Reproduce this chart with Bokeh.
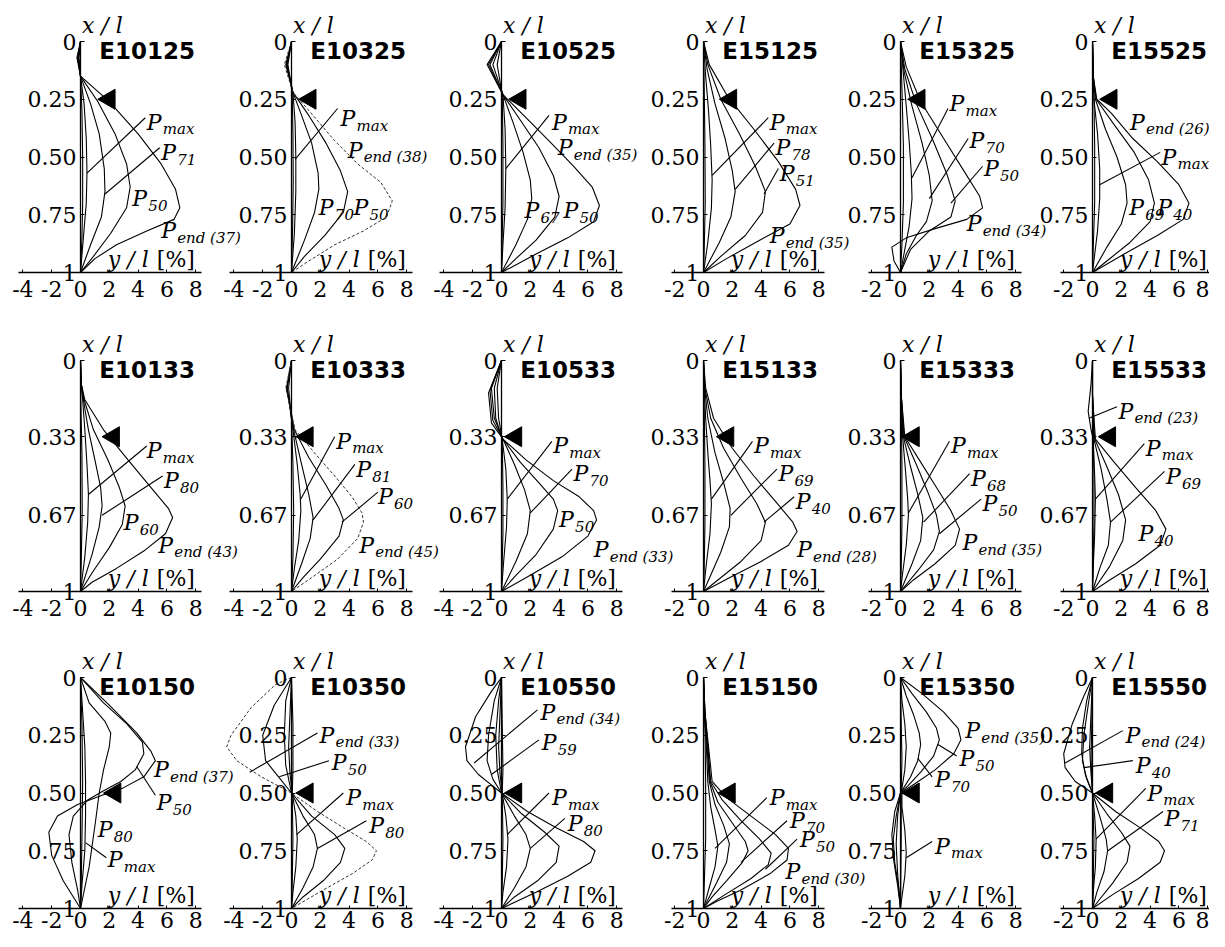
import math
from bokeh.plotting import figure
from bokeh.models import Range1d, LinearAxis, FixedTicker, ColumnDataSource
from bokeh.core.properties import value
from bokeh.embed import file_html
from bokeh.resources import INLINE

# ---------------- data ----------------
# grid of specimens (rows: load point at x/l = 0.25, 0.33, 0.50)
ROW_NAMES = [["E10125", "E10325", "E10525", "E15125", "E15325", "E15525"],
             ["E10133", "E10333", "E10533", "E15133", "E15333", "E15533"],
             ["E10150", "E10350", "E10550", "E15150", "E15350", "E15550"]]
LOAD_XL = [0.25, 0.33, 0.50]
XL_TICKS = [[0, 0.25, 0.5, 0.75, 1], [0, 0.33, 0.67, 1], [0, 0.25, 0.5, 0.75, 1]]
XL_TICK_LABELS = [["0", "0.25", "0.50", "0.75", "1"], ["0", "0.33", "0.67", "1"],
                  ["0", "0.25", "0.50", "0.75", "1"]]
YL_TICKS_WIDE = [-4, -2, 0, 2, 4, 6, 8]     # columns 1-3
YL_TICKS_NARROW = [-2, 0, 2, 4, 6, 8]       # columns 4-6
YL_TICK_LABELS = {-4: "-4", -2: "-2", 0: "0", 2: "2", 4: "4", 6: "6", 8: "8"}
YL_AXIS_WIDE = (-4.3, 8.4)
YL_AXIS_NARROW = (-2.2, 8.4)

# deflected shapes: (y/l [%], x/l) points, from low load to final load
E10125_curves = [
    [(0, 0), (-0.25, 0.07), (0, 0.15), (0.1, 0.3), (0.15, 0.5), (0.15, 0.7), (0.1, 0.85), (0, 1)],
    [(0, 0), (-0.2, 0.07), (0, 0.15), (0.25, 0.27), (0.4, 0.42), (0.45, 0.57), (0.4, 0.7), (0.2, 0.85), (0, 1)],
    [(0, 0), (-0.15, 0.07), (0, 0.15), (0.7, 0.27), (1.3, 0.4), (1.65, 0.55), (1.7, 0.65), (1.45, 0.76), (0.7, 0.88), (0, 1)],
    [(0, 0), (-0.15, 0.07), (0, 0.15), (1.2, 0.26), (2.4, 0.4), (3.2, 0.53), (3.45, 0.63), (3.2, 0.72), (2.1, 0.83), (0.9, 0.93), (0, 1)],
    [(0, 0), (-0.1, 0.07), (0, 0.15), (2.0, 0.26), (4.0, 0.4), (5.6, 0.53), (6.6, 0.64), (6.9, 0.72), (6.5, 0.77), (4.6, 0.82), (2.5, 0.88), (1.0, 0.94), (0, 1)],
]
E10325_curves = [
    [(0, 0), (-0.25, 0.1), (0.05, 0.22), (0.1, 0.4), (0.12, 0.6), (0.08, 0.8), (0, 1)],
    [(0, 0), (-0.3, 0.1), (0.1, 0.22), (0.25, 0.35), (0.3, 0.5), (0.3, 0.65), (0.2, 0.83), (0, 1)],
    [(0, 0), (-0.35, 0.1), (0.1, 0.22), (0.7, 0.32), (1.4, 0.44), (1.85, 0.57), (1.9, 0.64), (1.6, 0.74), (0.9, 0.86), (0, 1)],
    [(0, 0), (-0.4, 0.1), (0.1, 0.22), (1.2, 0.32), (2.4, 0.44), (3.4, 0.56), (3.9, 0.65), (3.6, 0.74), (2.3, 0.84), (0.9, 0.93), (0, 1)],
    [(0, 0), (-0.5, 0.1), (0.1, 0.22), (1.5, 0.32), (3.0, 0.43), (4.6, 0.53), (6.2, 0.61), (7.0, 0.69), (6.6, 0.76), (5.0, 0.82), (3.0, 0.88), (1.2, 0.95), (0, 1)],
]
E10525_curves = [
    [(0, 0), (-0.3, 0.1), (0.05, 0.23), (0.1, 0.45), (0.1, 0.7), (0, 1)],
    [(0, 0), (-0.6, 0.1), (0.1, 0.23), (0.25, 0.38), (0.3, 0.55), (0.25, 0.72), (0.1, 0.88), (0, 1)],
    [(0, 0), (-0.8, 0.1), (0.1, 0.23), (0.8, 0.35), (1.5, 0.48), (2.0, 0.6), (2.1, 0.68), (1.8, 0.77), (1.0, 0.88), (0, 1)],
    [(0, 0), (-0.9, 0.1), (0.1, 0.23), (1.3, 0.34), (2.6, 0.46), (3.6, 0.58), (4.0, 0.67), (3.7, 0.76), (2.4, 0.86), (1.0, 0.94), (0, 1)],
    [(0, 0), (-1.0, 0.1), (0.1, 0.23), (1.7, 0.33), (3.3, 0.43), (5.0, 0.54), (6.3, 0.63), (6.8, 0.71), (6.4, 0.78), (4.6, 0.85), (2.4, 0.92), (0, 1)],
]
E15125_curves = [
    [(0, 0), (0.05, 0.2), (0.1, 0.45), (0.12, 0.7), (0.05, 0.9), (0, 1)],
    [(0, 0), (0.15, 0.15), (0.35, 0.3), (0.5, 0.45), (0.6, 0.6), (0.55, 0.72), (0.3, 0.87), (0, 1)],
    [(0, 0), (0.25, 0.12), (0.8, 0.27), (1.5, 0.42), (2.0, 0.56), (2.2, 0.65), (1.9, 0.76), (1.1, 0.87), (0, 1)],
    [(0, 0), (0.3, 0.1), (1.2, 0.25), (2.5, 0.4), (3.6, 0.54), (4.3, 0.65), (4.1, 0.74), (2.9, 0.84), (1.2, 0.93), (0, 1)],
    [(0, 0), (0.4, 0.1), (1.7, 0.24), (3.5, 0.38), (5.2, 0.52), (6.4, 0.64), (6.7, 0.71), (6.0, 0.79), (3.9, 0.86), (1.6, 0.94), (0, 1)],
]
E15325_curves = [
    [(0, 0), (0.1, 0.2), (0.2, 0.45), (0.2, 0.7), (0.1, 0.88), (0, 1)],
    [(0, 0), (0.2, 0.14), (0.4, 0.28), (0.6, 0.43), (0.75, 0.57), (0.8, 0.68), (0.6, 0.8), (0.3, 0.9), (0, 1)],
    [(0, 0), (0.25, 0.13), (0.8, 0.28), (1.5, 0.44), (2.0, 0.58), (2.2, 0.69), (1.8, 0.78), (1.1, 0.84), (0.4, 0.92), (0, 1)],
    [(0, 0), (0.3, 0.12), (1.1, 0.27), (2.2, 0.42), (3.2, 0.57), (3.8, 0.69), (3.5, 0.76), (2.0, 0.82), (0.7, 0.9), (0, 1)],
    [(0, 0), (0.4, 0.11), (1.4, 0.26), (2.9, 0.41), (4.4, 0.56), (5.5, 0.67), (5.7, 0.72), (4.6, 0.77), (2.4, 0.81), (0.4, 0.85), (-0.6, 0.89), (-0.45, 0.95), (0, 1)],
]
E15525_curves = [
    [(0, 0), (0.05, 0.15), (0.1, 0.25), (0.15, 0.45), (0.15, 0.7), (0.05, 0.9), (0, 1)],
    [(0, 0), (0.05, 0.15), (0.1, 0.25), (0.35, 0.4), (0.5, 0.55), (0.5, 0.68), (0.35, 0.82), (0, 1)],
    [(0, 0), (0.05, 0.15), (0.2, 0.25), (0.9, 0.38), (1.7, 0.5), (2.3, 0.62), (2.4, 0.7), (2.0, 0.79), (1.0, 0.89), (0, 1)],
    [(0, 0), (0.05, 0.15), (0.25, 0.25), (1.5, 0.36), (2.9, 0.48), (3.9, 0.6), (4.3, 0.7), (4.0, 0.78), (2.6, 0.87), (1.0, 0.95), (0, 1)],
    [(0, 0), (0.05, 0.15), (0.3, 0.25), (1.3, 0.31), (2.8, 0.42), (4.5, 0.52), (6.0, 0.62), (6.7, 0.7), (6.3, 0.77), (4.5, 0.84), (2.2, 0.92), (0, 1)],
]
E10133_curves = [
    [(0, 0), (0.02, 0.17), (0.1, 0.4), (0.12, 0.65), (0.05, 0.88), (0, 1)],
    [(0, 0), (0.03, 0.1), (0.15, 0.17), (0.3, 0.3), (0.45, 0.45), (0.55, 0.58), (0.5, 0.7), (0.3, 0.85), (0, 1)],
    [(0, 0), (0.05, 0.1), (0.2, 0.17), (0.55, 0.3), (1.0, 0.43), (1.4, 0.55), (1.5, 0.63), (1.3, 0.72), (0.8, 0.84), (0, 1)],
    [(0, 0), (0.05, 0.1), (0.25, 0.17), (0.9, 0.3), (1.9, 0.43), (2.7, 0.55), (3.1, 0.63), (2.9, 0.71), (2.0, 0.81), (0.9, 0.91), (0, 1)],
    [(0, 0), (0.05, 0.1), (0.3, 0.17), (1.6, 0.3), (3.3, 0.43), (4.9, 0.55), (6.1, 0.64), (6.4, 0.68), (5.9, 0.75), (4.5, 0.82), (2.5, 0.9), (0.8, 0.96), (0, 1)],
]
E10333_curves = [
    [(0, 0), (-0.2, 0.12), (0.0, 0.25), (0.1, 0.45), (0.15, 0.65), (0.1, 0.85), (0, 1)],
    [(0, 0), (-0.3, 0.12), (0.1, 0.3), (0.4, 0.45), (0.6, 0.58), (0.65, 0.65), (0.5, 0.78), (0.2, 0.9), (0, 1)],
    [(0, 0), (-0.3, 0.12), (0.15, 0.3), (0.7, 0.45), (1.2, 0.58), (1.5, 0.68), (1.3, 0.77), (0.7, 0.88), (0, 1)],
    [(0, 0), (-0.35, 0.12), (0.2, 0.3), (1.2, 0.42), (2.4, 0.54), (3.3, 0.64), (3.6, 0.69), (3.3, 0.76), (2.0, 0.86), (0.8, 0.94), (0, 1)],
    [(0, 0), (-0.4, 0.12), (0.25, 0.3), (1.6, 0.4), (3.0, 0.5), (4.2, 0.59), (4.9, 0.66), (5.0, 0.7), (4.6, 0.77), (3.2, 0.86), (1.4, 0.94), (0, 1)],
]
E10533_curves = [
    [(0, 0), (-0.3, 0.12), (-0.2, 0.25), (0.05, 0.34), (0.1, 0.55), (0.1, 0.75), (0, 1)],
    [(0, 0), (-0.5, 0.12), (-0.4, 0.25), (0.05, 0.34), (0.3, 0.47), (0.4, 0.6), (0.35, 0.72), (0.15, 0.87), (0, 1)],
    [(0, 0), (-0.7, 0.12), (-0.5, 0.25), (0.1, 0.34), (0.9, 0.45), (1.6, 0.56), (2.0, 0.65), (1.8, 0.75), (1.0, 0.87), (0, 1)],
    [(0, 0), (-0.8, 0.13), (-0.6, 0.26), (0.1, 0.34), (1.3, 0.44), (2.6, 0.53), (3.6, 0.6), (3.9, 0.65), (3.6, 0.73), (2.4, 0.84), (1.0, 0.93), (0, 1)],
    [(0, 0), (-0.9, 0.14), (-0.7, 0.27), (0.1, 0.34), (1.7, 0.43), (3.6, 0.52), (5.4, 0.59), (6.4, 0.65), (6.6, 0.69), (6.0, 0.76), (4.2, 0.85), (2.0, 0.93), (0, 1)],
]
E15133_curves = [
    [(0, 0), (0.05, 0.2), (0.1, 0.45), (0.1, 0.7), (0.05, 0.9), (0, 1)],
    [(0, 0), (0.05, 0.12), (0.15, 0.25), (0.3, 0.4), (0.45, 0.52), (0.55, 0.62), (0.45, 0.75), (0.2, 0.88), (0, 1)],
    [(0, 0), (0.08, 0.12), (0.3, 0.25), (0.8, 0.4), (1.4, 0.53), (1.85, 0.64), (1.8, 0.72), (1.2, 0.83), (0, 1)],
    [(0, 0), (0.1, 0.12), (0.5, 0.25), (1.4, 0.38), (2.6, 0.51), (3.7, 0.62), (4.3, 0.7), (4.0, 0.78), (2.6, 0.87), (1.0, 0.95), (0, 1)],
    [(0, 0), (0.15, 0.12), (0.7, 0.25), (2.0, 0.38), (3.5, 0.5), (5.0, 0.61), (6.2, 0.7), (6.5, 0.74), (5.9, 0.8), (4.0, 0.87), (1.8, 0.94), (0, 1)],
]
E15333_curves = [
    [(0, 0), (0.05, 0.2), (0.1, 0.45), (0.1, 0.7), (0.05, 0.9), (0, 1)],
    [(0, 0), (0.05, 0.15), (0.15, 0.33), (0.35, 0.48), (0.5, 0.6), (0.55, 0.67), (0.4, 0.8), (0.15, 0.92), (0, 1)],
    [(0, 0), (0.05, 0.15), (0.2, 0.33), (0.7, 0.46), (1.2, 0.58), (1.55, 0.68), (1.4, 0.78), (0.8, 0.88), (0, 1)],
    [(0, 0), (0.05, 0.15), (0.25, 0.33), (1.1, 0.45), (1.9, 0.57), (2.5, 0.67), (2.7, 0.74), (2.3, 0.82), (1.2, 0.91), (0, 1)],
    [(0, 0), (0.05, 0.15), (0.3, 0.33), (1.4, 0.44), (2.5, 0.55), (3.5, 0.65), (4.1, 0.73), (3.8, 0.8), (2.4, 0.88), (0.9, 0.95), (0, 1)],
]
E15533_curves = [
    [(0, 0), (-0.1, 0.1), (-0.3, 0.22), (-0.1, 0.3), (0.05, 0.34), (0.1, 0.5), (0.1, 0.7), (0.05, 0.88), (0, 1)],
    [(0, 0), (0, 0.15), (0.05, 0.34), (0.15, 0.5), (0.2, 0.6), (0.15, 0.75), (0.05, 0.9), (0, 1)],
    [(0, 0), (0, 0.15), (0.1, 0.34), (0.6, 0.47), (1.0, 0.6), (1.25, 0.7), (1.1, 0.8), (0.5, 0.9), (0, 1)],
    [(0, 0), (0, 0.15), (0.15, 0.34), (1.0, 0.46), (1.8, 0.58), (2.3, 0.69), (2.1, 0.78), (1.2, 0.89), (0, 1)],
    [(0, 0), (0, 0.15), (0.2, 0.34), (1.5, 0.44), (3.0, 0.55), (4.4, 0.65), (5.1, 0.73), (4.7, 0.8), (3.0, 0.88), (1.2, 0.95), (0, 1)],
]
E10150_curves = [
    [(0, 0), (0.1, 0.2), (0.15, 0.45), (0.1, 0.7), (0.05, 0.9), (0, 1)],
    [(0, 0), (0.15, 0.15), (0.3, 0.3), (0.35, 0.45), (0.35, 0.6), (0.3, 0.75), (0.1, 0.9), (0, 1)],
    [(0, 0), (0.6, 0.11), (1.7, 0.19), (2.1, 0.24), (2.0, 0.3), (1.6, 0.4), (1.3, 0.5), (1.05, 0.62), (0.6, 0.82), (0, 1)],
    [(0, 0), (1.6, 0.11), (3.2, 0.2), (4.3, 0.28), (4.4, 0.33), (3.8, 0.4), (2.8, 0.45), (1.6, 0.49), (0.5, 0.53), (-0.5, 0.6), (-0.8, 0.68), (-0.6, 0.8), (-0.2, 0.92), (0, 1)],
    [(0, 0), (2.0, 0.12), (3.9, 0.24), (4.9, 0.32), (5.2, 0.36), (4.4, 0.43), (2.9, 0.48), (1.5, 0.51), (-0.2, 0.55), (-1.6, 0.6), (-2.2, 0.67), (-2.0, 0.77), (-1.2, 0.88), (-0.4, 0.96), (0, 1)],
]
E10350_curves = [
    [(0, 0), (0.1, 0.2), (0.1, 0.4), (0.05, 0.5), (0.1, 0.7), (0.05, 0.9), (0, 1)],
    [(0, 0), (-0.1, 0.15), (-0.2, 0.3), (-0.1, 0.42), (0.05, 0.5), (0.3, 0.6), (0.4, 0.7), (0.3, 0.82), (0.1, 0.93), (0, 1)],
    [(0, 0), (-0.4, 0.1), (-0.5, 0.25), (-0.4, 0.38), (0, 0.5), (0.8, 0.6), (1.6, 0.68), (1.8, 0.74), (1.5, 0.82), (0.8, 0.91), (0, 1)],
    [(0, 0), (-1.2, 0.12), (-2.0, 0.25), (-1.8, 0.36), (-0.9, 0.43), (0, 0.5), (1.4, 0.6), (3.0, 0.68), (3.7, 0.74), (3.4, 0.8), (2.2, 0.88), (0.8, 0.95), (0, 1)],
    [(0, 0), (-1.1, 0.03), (-2.8, 0.13), (-4.2, 0.25), (-4.5, 0.3), (-3.8, 0.36), (-2.1, 0.43), (-0.6, 0.48), (0, 0.5), (1.8, 0.58), (3.6, 0.65), (5.2, 0.71), (5.9, 0.75), (5.6, 0.79), (4.2, 0.85), (2.2, 0.92), (0, 1)],
]
E10550_curves = [
    [(0, 0), (0.05, 0.2), (0.1, 0.4), (0.05, 0.5), (0.1, 0.7), (0.05, 0.9), (0, 1)],
    [(0, 0), (-0.1, 0.15), (-0.2, 0.3), (-0.1, 0.42), (0.05, 0.5), (0.3, 0.6), (0.45, 0.7), (0.35, 0.82), (0.1, 0.93), (0, 1)],
    [(0, 0), (-0.2, 0.1), (-0.4, 0.25), (-0.3, 0.4), (0, 0.5), (0.9, 0.6), (1.7, 0.68), (2.0, 0.74), (1.7, 0.82), (0.9, 0.91), (0, 1)],
    [(0, 0), (-0.5, 0.1), (-0.9, 0.25), (-1.0, 0.36), (-0.6, 0.44), (0, 0.5), (1.4, 0.59), (3.0, 0.67), (4.0, 0.73), (3.8, 0.8), (2.5, 0.88), (0.9, 0.95), (0, 1)],
    [(0, 0), (-0.7, 0.06), (-1.8, 0.17), (-2.5, 0.3), (-2.4, 0.36), (-1.6, 0.42), (-0.6, 0.47), (0, 0.5), (1.8, 0.58), (3.8, 0.65), (5.7, 0.71), (6.5, 0.75), (6.2, 0.8), (4.6, 0.86), (2.4, 0.93), (0, 1)],
]
E15150_curves = [
    [(0, 0), (0.1, 0.2), (0.15, 0.45), (0.15, 0.7), (0.05, 0.9), (0, 1)],
    [(0, 0), (0.05, 0.15), (0.2, 0.3), (0.3, 0.45), (0.5, 0.56), (0.8, 0.66), (1.0, 0.73), (0.8, 0.82), (0.35, 0.92), (0, 1)],
    [(0, 0), (0.05, 0.15), (0.25, 0.3), (0.4, 0.45), (0.8, 0.55), (1.4, 0.64), (1.8, 0.72), (1.6, 0.8), (0.9, 0.89), (0, 1)],
    [(0, 0), (0.1, 0.15), (0.3, 0.3), (0.45, 0.45), (1.0, 0.54), (2.0, 0.63), (2.9, 0.71), (3.1, 0.75), (2.7, 0.8), (1.6, 0.88), (0.6, 0.95), (0, 1)],
    [(0, 0), (0.1, 0.15), (0.3, 0.3), (0.5, 0.45), (1.3, 0.53), (2.6, 0.62), (3.9, 0.7), (4.7, 0.76), (4.5, 0.81), (3.3, 0.87), (1.5, 0.94), (0, 1)],
    [(0, 0), (0.1, 0.15), (0.35, 0.3), (0.6, 0.45), (1.6, 0.52), (3.3, 0.6), (5.0, 0.68), (5.9, 0.74), (5.8, 0.79), (4.6, 0.85), (2.6, 0.92), (0.9, 0.97), (0, 1)],
]
E15350_curves = [
    [(0, 0), (0.05, 0.2), (0.1, 0.35), (0.05, 0.5), (0.05, 0.7), (0, 1)],
    [(0, 0), (0.1, 0.1), (0.3, 0.2), (0.4, 0.3), (0.3, 0.4), (0.1, 0.48), (0.1, 0.56), (0.3, 0.66), (0.4, 0.76), (0.3, 0.86), (0.1, 0.95), (0, 1)],
    [(0, 0), (0.4, 0.08), (0.9, 0.16), (1.3, 0.24), (1.4, 0.29), (1.2, 0.36), (0.7, 0.43), (0.2, 0.48), (0, 0.5), (-0.2, 0.6), (-0.3, 0.72), (-0.2, 0.85), (0, 1)],
    [(0, 0), (0.8, 0.07), (1.8, 0.15), (2.5, 0.22), (2.7, 0.27), (2.3, 0.34), (1.4, 0.41), (0.5, 0.47), (0, 0.5), (-0.3, 0.6), (-0.5, 0.7), (-0.4, 0.8), (-0.15, 0.9), (0, 1)],
    [(0, 0), (1.5, 0.07), (3.0, 0.15), (4.0, 0.22), (4.2, 0.27), (3.7, 0.33), (2.4, 0.4), (1.0, 0.46), (0, 0.5), (-0.4, 0.58), (-0.6, 0.68), (-0.5, 0.78), (-0.2, 0.9), (0, 1)],
]
E15550_curves = [
    [(0, 0), (-0.05, 0.2), (-0.1, 0.35), (0, 0.5), (0.1, 0.7), (0.05, 0.9), (0, 1)],
    [(0, 0), (-0.1, 0.15), (-0.2, 0.3), (-0.1, 0.42), (0, 0.5), (0.15, 0.6), (0.25, 0.7), (0.2, 0.82), (0.05, 0.93), (0, 1)],
    [(0, 0), (-0.3, 0.12), (-0.6, 0.25), (-0.7, 0.36), (-0.4, 0.44), (0, 0.5), (0.5, 0.6), (0.95, 0.7), (1.05, 0.75), (0.8, 0.84), (0.3, 0.93), (0, 1)],
    [(0, 0), (-0.4, 0.1), (-0.7, 0.22), (-0.75, 0.33), (-0.5, 0.42), (0, 0.5), (1.0, 0.59), (2.0, 0.67), (2.6, 0.73), (2.4, 0.8), (1.4, 0.89), (0.5, 0.96), (0, 1)],
    [(0, 0), (-0.6, 0.08), (-1.4, 0.2), (-2.0, 0.33), (-1.9, 0.39), (-1.2, 0.45), (0, 0.5), (1.6, 0.58), (3.3, 0.65), (4.6, 0.71), (5.0, 0.75), (4.7, 0.8), (3.2, 0.87), (1.4, 0.94), (0, 1)],
]

CURVES = {
    "E10125": E10125_curves, "E10325": E10325_curves, "E10525": E10525_curves,
    "E15125": E15125_curves, "E15325": E15325_curves, "E15525": E15525_curves,
    "E10133": E10133_curves, "E10333": E10333_curves, "E10533": E10533_curves,
    "E15133": E15133_curves, "E15333": E15333_curves, "E15533": E15533_curves,
    "E10150": E10150_curves, "E10350": E10350_curves, "E10550": E10550_curves,
    "E15150": E15150_curves, "E15350": E15350_curves, "E15550": E15550_curves,
}
# final-load curves drawn lighter / dashed in the original
DASHED = {"E10325": [4], "E10333": [4], "E10350": [4]}

# y/l of the load-point marker (triangle) in each panel
LOAD_MARK_YL = {
    "E10125": 2.0, "E10325": 1.3, "E10525": 1.3, "E15125": 1.9, "E15325": 1.3, "E15525": 1.3,
    "E10133": 2.3, "E10333": 1.1, "E10533": 1.0, "E15133": 1.7, "E15333": 0.9, "E15533": 1.2,
    "E10150": 2.4, "E10350": 1.1, "E10550": 1.0, "E15150": 1.8, "E15350": 0.9, "E15550": 1.0,
}

# curve labels: subscript text of "P", anchor (y/l, x/l)
LABELS = {
    "E10125": [("max", 4.6, 0.35), ("71", 5.6, 0.48), ("50", 3.6, 0.68), ("end (37)", 5.6, 0.82)],
    "E10325": [("max", 3.4, 0.335), ("end (38)", 3.9, 0.47), ("70", 1.9, 0.72), ("50", 4.3, 0.72)],
    "E10525": [("max", 3.5, 0.35), ("end (35)", 3.9, 0.46), ("67", 1.6, 0.73), ("50", 4.3, 0.73)],
    "E15125": [("max", 4.6, 0.35), ("78", 5.0, 0.46), ("51", 5.3, 0.57), ("end (35)", 4.6, 0.84)],
    "E15325": [("max", 3.4, 0.27), ("70", 4.8, 0.43), ("50", 5.8, 0.55), ("end (34)", 4.6, 0.79)],
    "E15525": [("end (26)", 2.6, 0.35), ("max", 4.8, 0.5), ("69", 2.55, 0.72), ("40", 4.5, 0.72)],
    "E10133": [("max", 4.6, 0.39), ("80", 5.8, 0.52), ("60", 3.0, 0.7), ("end (43)", 5.4, 0.8)],
    "E10333": [("max", 3.1, 0.35), ("81", 4.5, 0.47), ("60", 6.0, 0.59), ("end (45)", 4.7, 0.8)],
    "E10533": [("max", 3.6, 0.37), ("70", 5.0, 0.49), ("50", 4.0, 0.69), ("end (33)", 6.4, 0.82)],
    "E15133": [("max", 3.5, 0.37), ("69", 5.2, 0.49), ("40", 6.4, 0.61), ("end (28)", 6.5, 0.82)],
    "E15333": [("max", 3.5, 0.37), ("68", 4.9, 0.51), ("50", 5.7, 0.62), ("end (35)", 4.3, 0.79)],
    "E15533": [("end (23)", 1.8, 0.22), ("max", 3.7, 0.38), ("69", 5.1, 0.5), ("40", 3.2, 0.75)],
    "E10150": [("end (37)", 5.1, 0.40), ("50", 5.3, 0.54), ("80", 1.2, 0.66), ("max", 1.9, 0.79)],
    "E10350": [("end (33)", 1.95, 0.25), ("50", 2.8, 0.37), ("max", 3.8, 0.52), ("80", 5.4, 0.64)],
    "E10550": [("end (34)", 2.7, 0.15), ("59", 2.8, 0.28), ("max", 3.5, 0.52), ("80", 4.6, 0.63)],
    "E15150": [("max", 4.6, 0.52), ("70", 6.0, 0.62), ("50", 6.7, 0.7), ("end (30)", 5.7, 0.84)],
    "E15350": [("end (35)", 4.5, 0.23), ("50", 4.1, 0.35), ("70", 2.4, 0.44), ("max", 2.4, 0.73)],
    "E15550": [("end (24)", 2.3, 0.25), ("40", 3.0, 0.38), ("max", 3.8, 0.5), ("71", 5.0, 0.61)],
}
# leader lines (y/l, x/l) -> (y/l, x/l)
LEADERS = {
    "E10125": [(0.45, 0.57, 4.5, 0.33), (1.7, 0.66, 5.5, 0.46)],
    "E10325": [(0.25, 0.51, 3.2, 0.29)],
    "E10525": [(0.3, 0.55, 3.3, 0.32)],
    "E15125": [(0.6, 0.58, 4.5, 0.33), (2.2, 0.64, 4.9, 0.44), (4.2, 0.66, 5.2, 0.55)],
    "E15325": [(0.8, 0.59, 3.3, 0.29), (2.0, 0.68, 4.7, 0.42), (3.5, 0.7, 5.7, 0.54)],
    "E15525": [(0.5, 0.62, 4.7, 0.48)],
    "E10133": [(0.55, 0.58, 4.6, 0.37), (1.5, 0.67, 5.7, 0.5)],
    "E10333": [(0.65, 0.6, 3.0, 0.33), (1.5, 0.69, 4.4, 0.45), (3.5, 0.7, 6.0, 0.57)],
    "E10533": [(0.4, 0.6, 3.5, 0.35), (2.0, 0.66, 4.9, 0.47)],
    "E15133": [(0.55, 0.6, 3.4, 0.35), (1.9, 0.67, 5.1, 0.47), (4.2, 0.7, 6.3, 0.59)],
    "E15333": [(0.55, 0.66, 3.4, 0.35), (1.6, 0.7, 4.8, 0.49), (2.7, 0.75, 5.6, 0.6)],
    "E15533": [(-0.25, 0.25, 1.7, 0.2), (0.2, 0.6, 3.6, 0.36), (1.25, 0.7, 5.0, 0.48)],
    "E10150": [(3.9, 0.385, 5.2, 0.51), (0.35, 0.715, 1.8, 0.78)],
    "E10350": [(-2.9, 0.41, 1.8, 0.24), (-0.85, 0.43, 2.6, 0.36), (0.35, 0.68, 3.6, 0.5), (1.8, 0.74, 5.2, 0.62)],
    "E10550": [(-1.9, 0.37, 2.5, 0.14), (-0.7, 0.42, 2.6, 0.27), (0.4, 0.68, 3.3, 0.5), (2.0, 0.74, 4.4, 0.61)],
    "E15150": [(0.8, 0.74, 4.4, 0.52), (2.6, 0.8, 5.8, 0.62), (4.3, 0.83, 6.5, 0.7)],
    "E15350": [(2.6, 0.29, 3.9, 0.34), (1.2, 0.35, 2.2, 0.43), (0.4, 0.78, 2.2, 0.71)],
    "E15550": [(-1.9, 0.37, 2.1, 0.23), (-0.6, 0.39, 2.8, 0.36), (0.24, 0.7, 3.7, 0.48), (1.07, 0.75, 4.9, 0.58)],
}

# ---------------- layout (pixels) ----------------
W, H = 1209, 931
COL_AXIS_PX = [80, 291, 501, 703, 900, 1092]   # where y/l = 0 falls in each column
ROW_TOP_PX = [41, 360, 677]                      # where x/l = 0 falls in each row
PX_PER_YL = 14.4
PX_PER_XL = 231.0
TICK_STANDOFF = [8, 8, 3]

SERIF = "DejaVu Serif"
SANS = "DejaVu Sans"

def col_range(c):
    a = COL_AXIS_PX[c]
    return Range1d(-a / PX_PER_YL, (W - a) / PX_PER_YL)

def row_range(r):
    t = ROW_TOP_PX[r]
    return Range1d((H - t) / PX_PER_XL, -t / PX_PER_XL)   # x/l grows downward

p = figure(width=W, height=H, x_range=col_range(0), y_range=row_range(0),
           output_backend="svg", toolbar_location=None,
           x_axis_location=None, y_axis_location=None,
           min_border=0, min_border_left=0, min_border_right=0,
           min_border_top=0, min_border_bottom=0,
           outline_line_color=None, background_fill_color="white",
           border_fill_color="white")
p.extra_x_ranges = {f"c{c}": col_range(c) for c in range(6)}
p.extra_y_ranges = {f"r{r}": row_range(r) for r in range(3)}
for g in p.grid:
    g.visible = False

for r in range(3):
    for c in range(6):
        name = ROW_NAMES[r][c]
        xr, yr = f"c{c}", f"r{r}"
        kw = dict(x_range_name=xr, y_range_name=yr)
        wide = c < 3
        yticks = YL_TICKS_WIDE if wide else YL_TICKS_NARROW

        # horizontal axis (y/l) at x/l = 1
        ax = LinearAxis(fixed_location=1.0,
                        bounds=YL_AXIS_WIDE if wide else YL_AXIS_NARROW,
                        ticker=FixedTicker(ticks=yticks),
                        major_label_overrides={t: YL_TICK_LABELS[t] for t in yticks},
                        major_tick_in=3, major_tick_out=0,
                        minor_tick_in=0, minor_tick_out=0,
                        axis_line_width=1.3, major_tick_line_width=1,
                        major_label_standoff=TICK_STANDOFF[r],
                        major_label_text_font=SERIF,
                        major_label_text_font_size="22px",
                        major_label_text_color="black", **kw)
        p.add_layout(ax, "below")

        # vertical axis (x/l) at y/l = 0
        ticks = XL_TICKS[r]
        ay = LinearAxis(fixed_location=0.0, bounds=(0, 1),
                        ticker=FixedTicker(ticks=ticks),
                        major_label_overrides={t: s for t, s in zip(ticks, XL_TICK_LABELS[r])},
                        major_tick_in=4, major_tick_out=0,
                        minor_tick_in=0, minor_tick_out=0,
                        axis_line_width=1.3, major_tick_line_width=1,
                        major_label_standoff=4,
                        major_label_text_font=SERIF,
                        major_label_text_font_size="22px",
                        major_label_text_color="black", **kw)
        p.add_layout(ay, "left")

        # deflected shapes
        for i, pts in enumerate(CURVES[name]):
            ys = [q[0] for q in pts]
            xs = [q[1] for q in pts]
            if i in DASHED.get(name, []):
                p.line(ys, xs, line_color="#333333", line_width=1.0, line_dash="3 2", **kw)
            else:
                p.line(ys, xs, line_color="black", line_width=1.1, **kw)

        # leader lines
        ld = LEADERS.get(name, [])
        if ld:
            p.segment([s[0] for s in ld], [s[1] for s in ld],
                      [s[2] for s in ld], [s[3] for s in ld],
                      line_color="black", line_width=1.1, **kw)

        # load point marker
        p.scatter([LOAD_MARK_YL[name]], [LOAD_XL[r]], marker="triangle", size=20,
                  angle=math.pi / 2, fill_color="black", line_color="black", **kw)

        # curve labels P_sub
        lb = LABELS[name]
        src = ColumnDataSource(dict(x=[q[1] for q in lb], y=[q[2] for q in lb],
                                    main=["P"] * len(lb), sub=[q[0] for q in lb]))
        p.text(x="x", y="y", text="main", source=src,
               text_font=value(SERIF), text_font_style="italic",
               text_font_size="22px", text_align="left", text_baseline="middle",
               text_color="black", **kw)
        p.text(x="x", y="y", text="sub", source=src, x_offset=16, y_offset=7,
               text_font=value(SERIF), text_font_style="italic",
               text_font_size="15px", text_align="left", text_baseline="middle",
               text_color="black", **kw)

        # panel title and axis titles
        p.text(x=[1.3], y=[0.04], text=[name], text_font=value(SANS),
               text_font_style="bold", text_font_size="23px",
               text_align="left", text_baseline="middle", text_color="black", **kw)
        p.text(x=[0.1], y=[-0.07], text=["x / l"], text_font=value(SERIF),
               text_font_style="italic", text_font_size="22px",
               text_align="left", text_baseline="middle", text_color="black", **kw)
        p.text(x=[1.9], y=[0.945], text=["y / l"], text_font=value(SERIF),
               text_font_style="italic", text_font_size="22px",
               text_align="left", text_baseline="middle", text_color="black", **kw)
        p.text(x=[5.3], y=[0.945], text=["[%]"], text_font=value(SERIF),
               text_font_size="22px",
               text_align="left", text_baseline="middle", text_color="black", **kw)

open("out.html", "w").write(file_html(p, INLINE))
